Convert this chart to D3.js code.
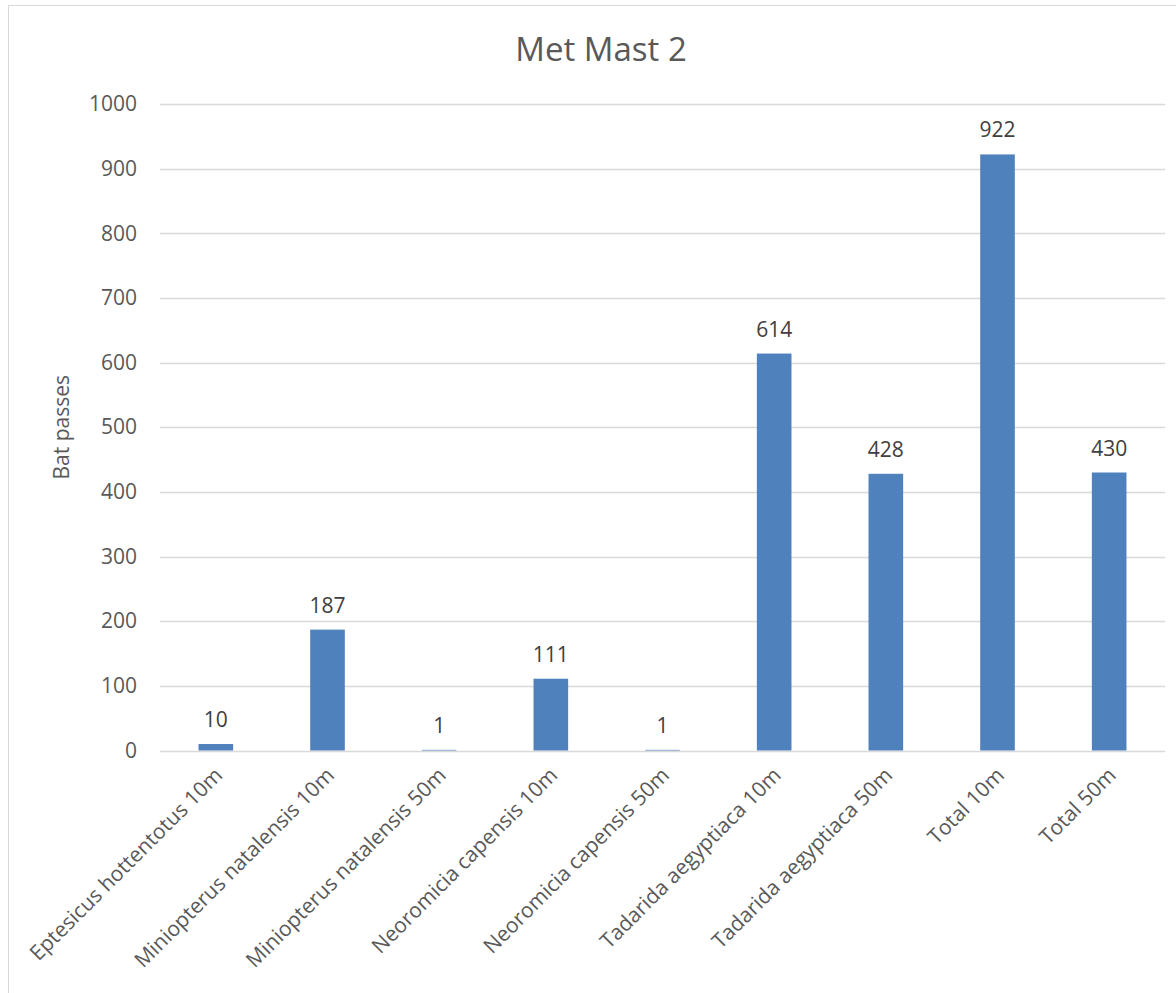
<!DOCTYPE html>
<html><head><meta charset="utf-8">
<script src="https://cdn.jsdelivr.net/npm/d3@7"></script>
<style>body{margin:0;background:#fff}svg{display:block}text{font-family:"Open Sans",sans-serif}</style>
</head><body><svg id="c" width="1176" height="993"></svg>
<script>
const categories = ["Eptesicus hottentotus 10m","Miniopterus natalensis 10m","Miniopterus natalensis 50m","Neoromicia capensis 10m","Neoromicia capensis 50m","Tadarida aegyptiaca 10m","Tadarida aegyptiaca 50m","Total 10m","Total 50m"];
const values = [10,187,1,111,1,614,428,922,430];
const yTicks = [0,100,200,300,400,500,600,700,800,900,1000];
const title = "Met Mast 2";
const yLabel = "Bat passes";

const svg = d3.select("#c");
svg.append("rect").attr("x",8.5).attr("y",5.5).attr("width",1180).attr("height",1000).attr("fill","#fff").attr("stroke","#d9d9d9");
const L=160,R=1165,T=104,B=750.5;
const x = d3.scaleBand().domain(categories).range([L,R]).paddingInner(0.69).paddingOuter(0.345);
const y = d3.scaleLinear().domain([0,1000]).range([B,T]);

svg.append("g").selectAll("line").data(yTicks).join("line")
  .attr("x1",L).attr("x2",R).attr("y1",d=>Math.round(y(d))+0.5).attr("y2",d=>Math.round(y(d))+0.5)
  .attr("stroke","#d9d9d9").attr("stroke-width",1.3);

const yAxis = svg.append("g").attr("transform",`translate(${L},0)`).call(d3.axisLeft(y).tickValues(yTicks).tickFormat(d3.format("d")).tickSize(0).tickPadding(23));
yAxis.select(".domain").remove();
yAxis.selectAll("text").attr("font-size",21).attr("fill","#595959").attr("font-family","Open Sans");

svg.append("g").selectAll("rect").data(values).join("rect")
  .attr("x",(d,i)=>x(categories[i])).attr("width",x.bandwidth())
  .attr("y",d=>y(d)).attr("height",d=>B-y(d)).attr("fill","#4f81bd");

svg.append("g").selectAll("text").data(values).join("text")
  .attr("x",(d,i)=>x(categories[i])+x.bandwidth()/2).attr("y",d=>y(d)-17)
  .attr("text-anchor","middle").attr("font-size",21).attr("fill","#404040").text(d=>d);

const xAxis = svg.append("g").attr("transform",`translate(0,${B})`).call(d3.axisBottom(x).tickSize(0).tickPadding(0));
xAxis.select(".domain").remove();
xAxis.selectAll("text").attr("font-size",21).attr("fill","#595959").attr("font-family","Open Sans")
  .attr("text-anchor","end").attr("dy",0).attr("transform","translate(8,26) rotate(-45)");

svg.append("text").attr("x",601).attr("y",61).attr("text-anchor","middle").attr("font-size",33).attr("fill","#595959").text(title);
svg.append("text").attr("transform",`translate(69,${(T+B)/2}) rotate(-90)`).attr("text-anchor","middle").attr("font-size",21).attr("fill","#595959").text(yLabel);
</script></body></html>
